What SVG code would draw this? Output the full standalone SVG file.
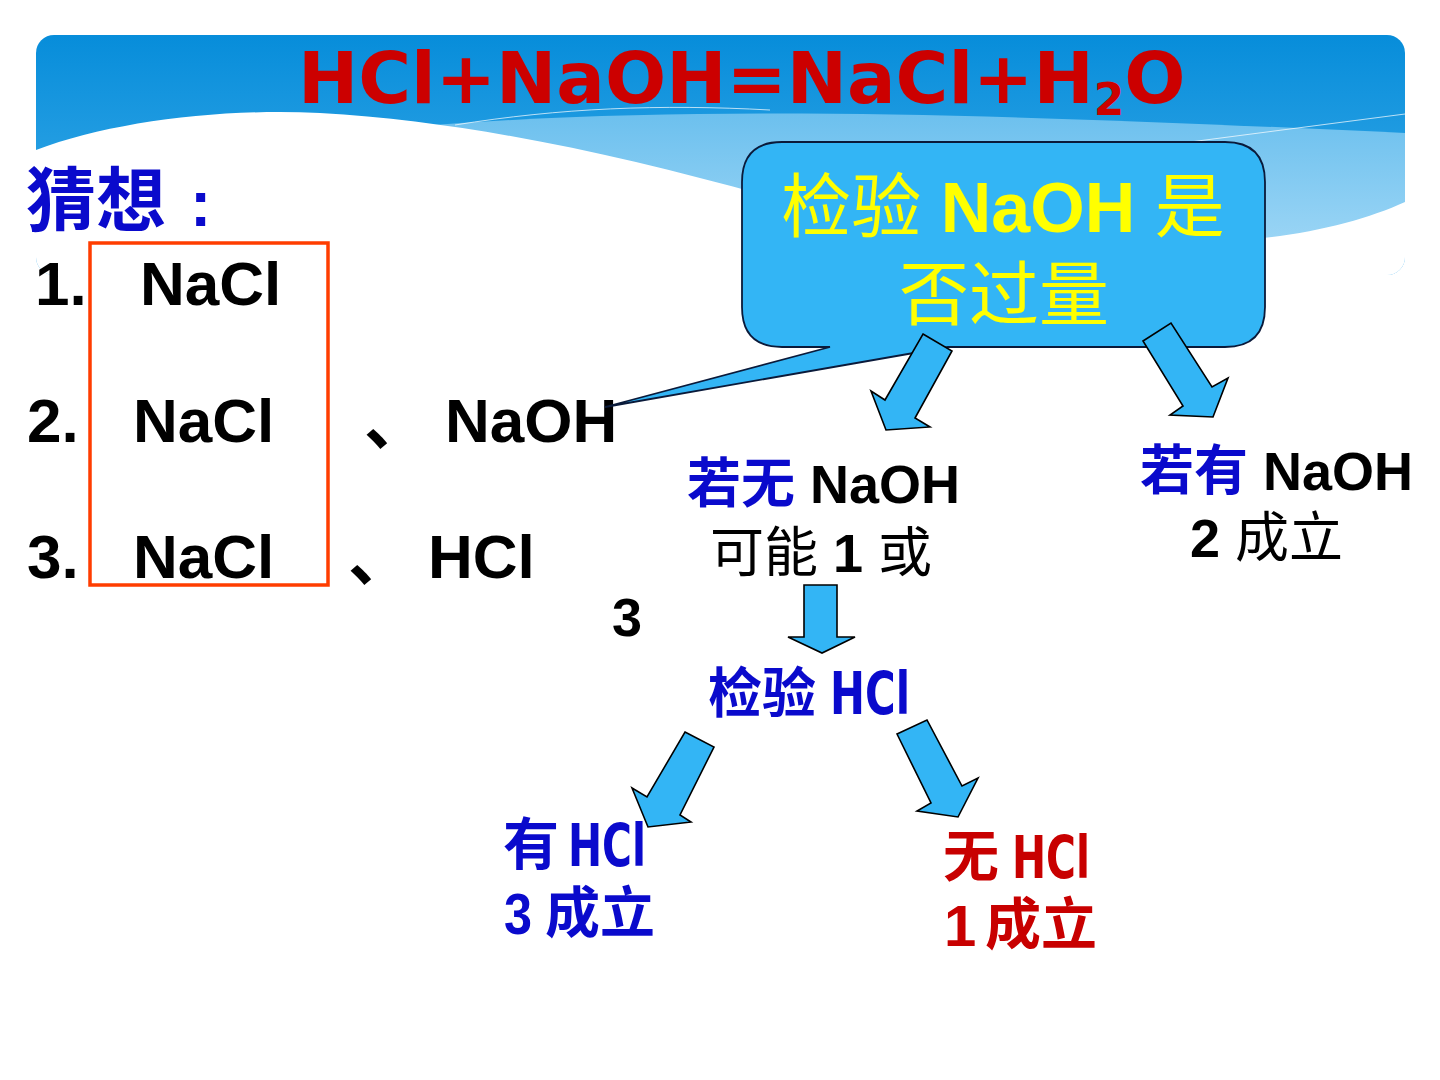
<svg xmlns="http://www.w3.org/2000/svg" width="1440" height="1080" viewBox="0 0 1440 1080">
<defs>
<linearGradient id="bg" x1="0" y1="0" x2="0" y2="1">
<stop offset="0" stop-color="#078DDA"/>
<stop offset="1" stop-color="#41AEEA"/>
</linearGradient>
<linearGradient id="band" x1="0" y1="0" x2="0" y2="1">
<stop offset="0" stop-color="#6CC0EE"/>
<stop offset="1" stop-color="#A6DAF7"/>
</linearGradient>
<clipPath id="bannerClip"><rect x="36" y="35" width="1369" height="240" rx="18"/></clipPath>
</defs>
<style>
.cjkb{font-family:"Noto Sans CJK SC","Noto Sans CJK TC",sans-serif;font-weight:bold}
.cjk{font-family:"Noto Sans CJK SC","Noto Sans CJK TC",sans-serif;font-weight:normal}
.ar{font-family:"Liberation Sans",Arial,sans-serif;font-weight:bold}
.nar{font-family:"Liberation Sans Narrow","DejaVu Sans Condensed","Liberation Sans",sans-serif;font-weight:bold}
.blue{fill:#0A0ACC}
.red{fill:#C80000}
.blk{fill:#000}
.yel{fill:#FFFF00}
.arrow{fill:#33B5F5;stroke:#000;stroke-width:1.6;stroke-linejoin:miter}
</style>
<rect x="0" y="0" width="1440" height="1080" fill="#FFFFFF"/>
<g id="banner" clip-path="url(#bannerClip)">
<rect x="36" y="35" width="1369" height="240" fill="url(#bg)"/>
<path d="M 420,126 C 700,104 1000,114 1405,133 L 1405,275 L 420,275 Z" fill="url(#band)"/>
<path d="M 36,150 C 110,122 220,108 320,113 C 480,122 640,160 800,205 L 1263,238 C 1320,232 1370,218 1405,202 L 1405,275 L 36,275 Z" fill="#FFFFFF"/>
<path d="M 455,125 C 560,108 660,104 770,110" fill="none" stroke="#FFFFFF" stroke-opacity="0.7" stroke-width="1"/>
<path d="M 1190,142 L 1405,114" fill="none" stroke="#FFFFFF" stroke-opacity="0.7" stroke-width="1"/>
</g>
<g id="title">
<text x="298" y="103" font-family="'DejaVu Sans',Verdana,sans-serif" font-weight="bold" font-size="72" fill="#CC0000">HCl+NaOH=NaCl+H<tspan font-size="44" dy="12">2</tspan><tspan dy="-12">O</tspan></text>
</g>
<g id="guess">
<text x="26" y="226" class="cjkb blue" font-size="70">猜想</text>
<text x="190" y="226" class="ar blue" font-size="64">:</text>
<rect x="90" y="243" width="238" height="342" fill="none" stroke="#FF3D00" stroke-width="3.5"/>
<text x="35" y="305" class="ar blk" font-size="62">1.</text>
<text x="140" y="305" class="ar blk" font-size="62">NaCl</text>
<text x="27" y="442" class="ar blk" font-size="62">2.</text>
<text x="133" y="442" class="ar blk" font-size="62">NaCl</text>
<text x="364" y="444" class="cjkb blk" font-size="64">、</text>
<text x="445" y="442" class="ar blk" font-size="62">NaOH</text>
<text x="27" y="578" class="ar blk" font-size="62">3.</text>
<text x="133" y="578" class="ar blk" font-size="62">NaCl</text>
<text x="348" y="580" class="cjkb blk" font-size="64">、</text>
<text x="428" y="578" class="ar blk" font-size="62">HCl</text>
</g>
<g id="callout">
<path d="M 782,142 H 1225 Q 1265,142 1265,182 V 307 Q 1265,347 1225,347 H 948 L 605,407 L 830,347 H 782 Q 742,347 742,307 V 182 Q 742,142 782,142 Z" fill="#33B5F5" stroke="#0A1A3A" stroke-width="1.8"/>
<text x="1003" y="232" text-anchor="middle" font-size="70" class="yel"><tspan class="cjk">检验</tspan><tspan class="ar"> NaOH </tspan><tspan class="cjk">是</tspan></text>
<text x="1004" y="320" text-anchor="middle" font-size="70" class="cjk yel">否过量</text>
</g>
<g id="connectors">
<polygon class="arrow" points="923,334 952,351 915,418 930,427 886,430 871,391 885,400"/>
<polygon class="arrow" points="1143,341 1171,323 1212,387 1228,378 1213,417 1170,415 1183,406"/>
<polygon class="arrow" points="804,585 837,585 837,637 855,637 822,653 788,637 804,637"/>
<polygon class="arrow" points="685,732 714,747 680,815 691,822 648,827 632,788 647,797"/>
<polygon class="arrow" points="897,734 927,720 962,786 978,778 958,817 917,811 931,803"/>
</g>
<g id="no-naoh">
<text x="687" y="503" font-size="54"><tspan class="cjkb blue">若无</tspan><tspan class="ar blk"> NaOH</tspan></text>
<text x="710" y="572" font-size="54" class="blk"><tspan class="cjk">可能</tspan><tspan class="ar"> 1 </tspan><tspan class="cjk">或</tspan></text>
<text x="612" y="636" font-size="54" class="ar blk">3</text>
</g>
<g id="has-naoh">
<text x="1140" y="490" font-size="54"><tspan class="cjkb blue">若有</tspan><tspan class="ar blk"> NaOH</tspan></text>
<text x="1190" y="557" font-size="54" class="blk"><tspan class="ar">2 </tspan><tspan class="cjk">成立</tspan></text>
</g>
<g id="test-hcl">
<text x="708" y="713" font-size="54" class="cjkb blue">检验</text>
<text x="830" y="714" font-size="58" class="nar blue" textLength="80" lengthAdjust="spacingAndGlyphs">HCl</text>
</g>
<g id="has-hcl">
<text x="503" y="864" font-size="56" class="cjkb blue">有</text>
<text x="568" y="866" font-size="58" class="nar blue" textLength="78" lengthAdjust="spacingAndGlyphs">HCl</text>
<text x="504" y="934" font-size="58" class="ar blue" textLength="28" lengthAdjust="spacingAndGlyphs">3</text>
<text x="545" y="932" font-size="55" class="cjkb blue">成立</text>
</g>
<g id="no-hcl">
<text x="943" y="876" font-size="56" class="cjkb red">无</text>
<text x="1012" y="878" font-size="58" class="nar red" textLength="78" lengthAdjust="spacingAndGlyphs">HCl</text>
<text x="944" y="946" font-size="58" class="ar red">1</text>
<text x="985" y="944" font-size="56" class="cjkb red">成立</text>
</g>
</svg>
